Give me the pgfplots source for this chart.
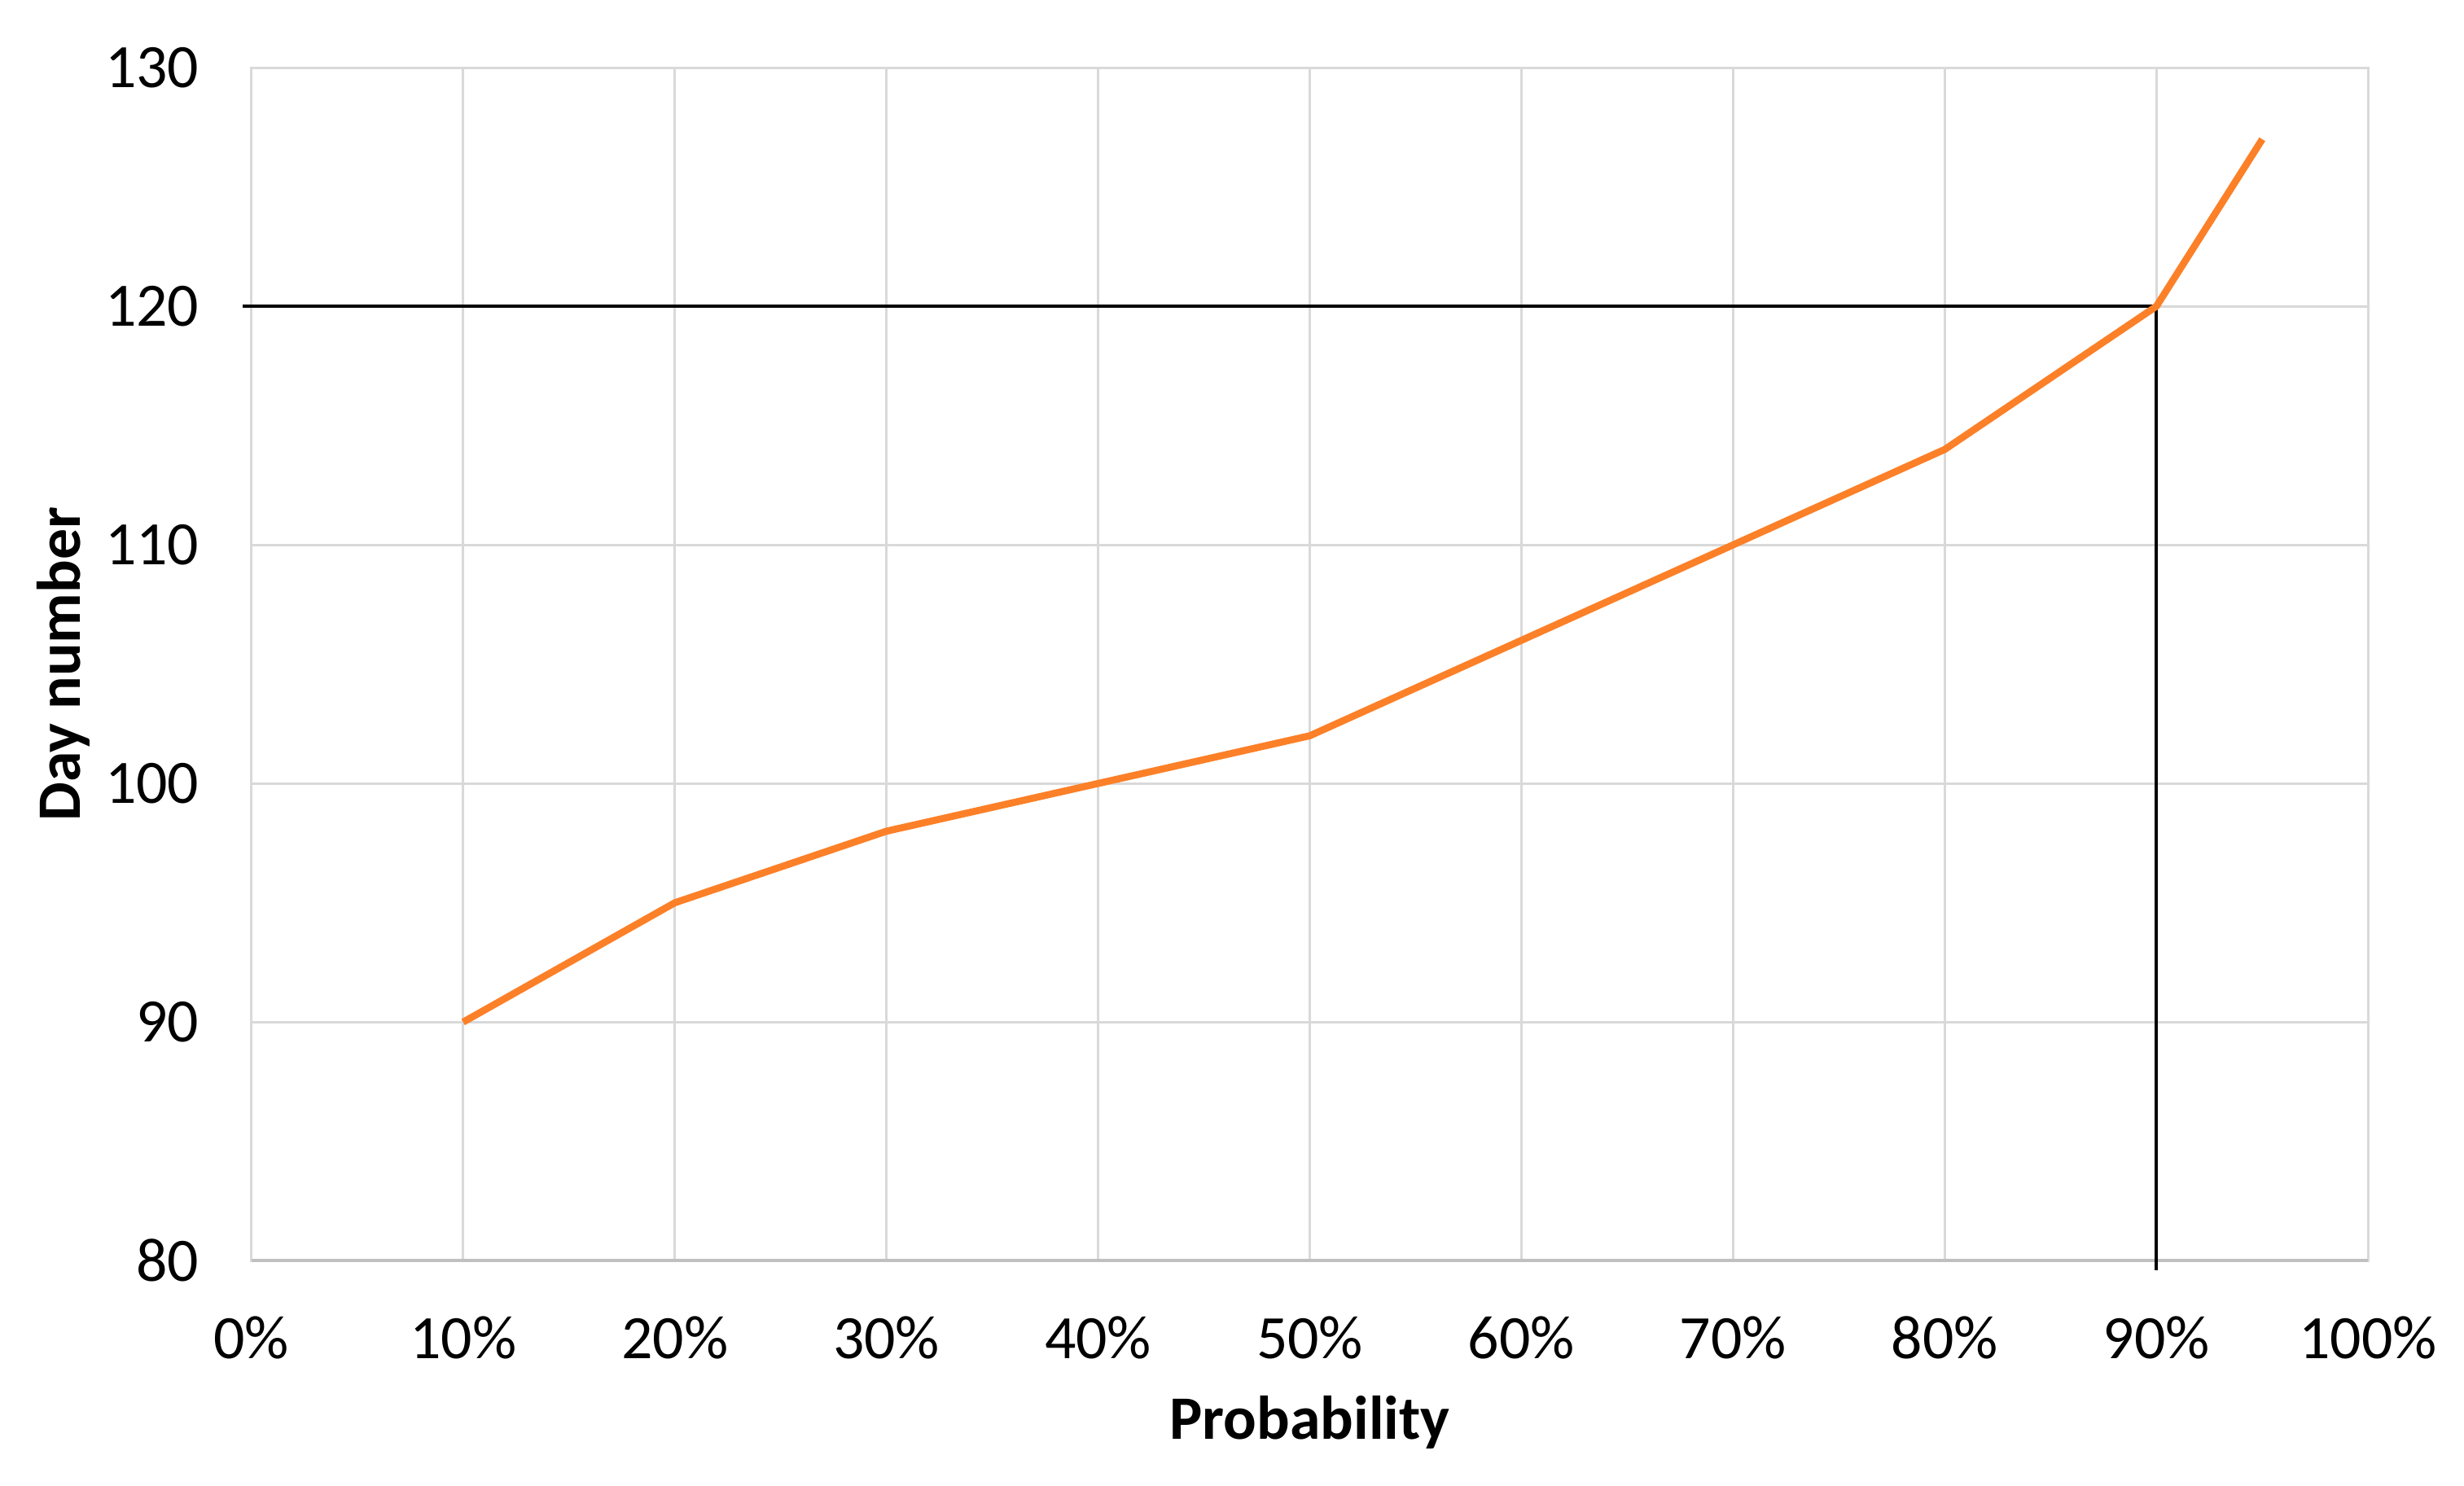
\documentclass[border=0pt]{standalone}
\usepackage{fontspec}
\setmainfont{Carlito}
\usepackage{pgfplots}
\pgfplotsset{compat=1.18}
\definecolor{lineorange}{RGB}{252,128,40}
\definecolor{gridgray}{RGB}{217,217,217}
\definecolor{basegray}{RGB}{192,192,192}

\begin{document}
\fontsize{11.4}{14}\selectfont
\begin{tikzpicture}
\begin{axis}[
    width=13.74cm,
    height=7.745cm,
    scale only axis,
    xmin=0, xmax=100,
    ymin=80, ymax=130,
    xtick={0,10,...,100},
    ytick={80,90,...,130},
    xticklabel={\pgfmathprintnumber{\tick}\%},
    /pgf/number format/assume math mode=true,
    tick style={draw=none},
    grid=major,
    grid style={gridgray, line width=0.45pt},
    axis line style={gridgray, line width=0.45pt},
    tick label style={font=\fontsize{11.4}{14}\selectfont},
    xticklabel style={yshift=-0.22cm},
    yticklabel style={xshift=-0.2cm},
    xlabel={\textbf{Probability}},
    ylabel={\textbf{Day number}},
    label style={font=\fontsize{11.4}{14}\selectfont},
    xlabel style={at={(axis description cs:0.5,-0.1357)}, anchor=center},
    ylabel style={at={(axis description cs:-0.089,0.5)}, anchor=center},
    clip=false,
]
% keep the reference's white margins
\path (rel axis cs:-0.1188,-0.1884) rectangle (rel axis cs:1.0453,1.0567);
\addplot[basegray, line width=0.6pt, forget plot] coordinates {(0,80) (100,80)};
\addplot[black, line width=0.55pt] coordinates {(-0.4,120) (90,120) (90,79.6)};
\addplot[lineorange, line width=1.3pt] coordinates {
    (10,90) (20,95) (30,98) (40,100) (50,102) (60,106) (70,110) (80,114) (90,120) (95,127)
};
\end{axis}
\end{tikzpicture}
\end{document}
